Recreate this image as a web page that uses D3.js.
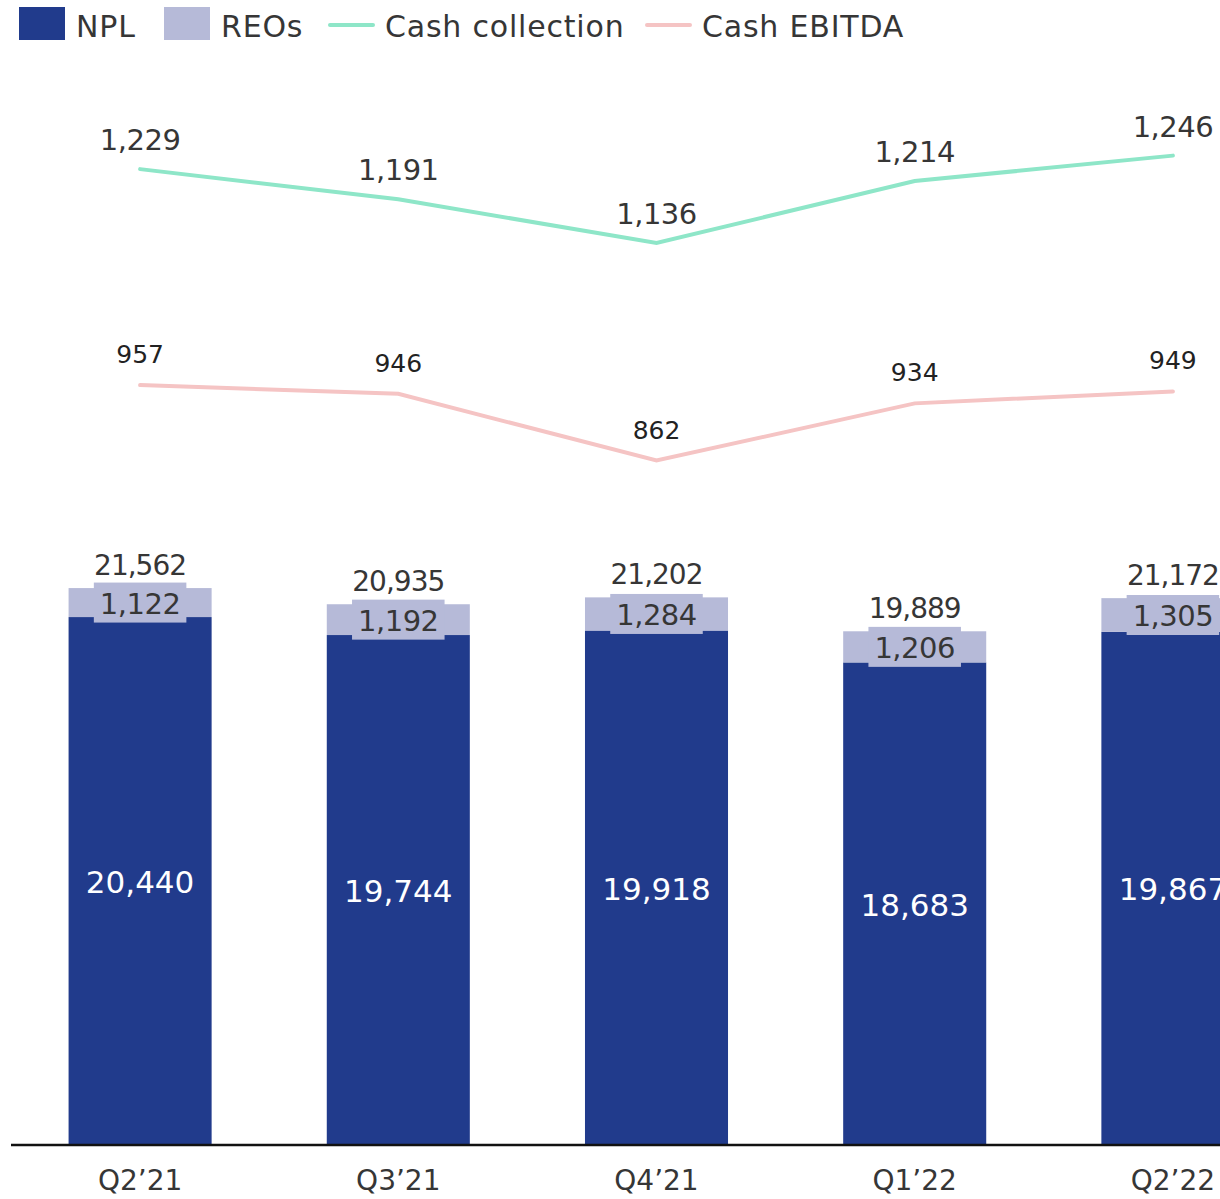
<!DOCTYPE html>
<html>
<head>
<meta charset="utf-8">
<script src="https://cdn.jsdelivr.net/npm/d3@7"></script>
<style>
  body { margin: 0; background: #fff; }
  svg { display: block; font-family: "DejaVu Sans", sans-serif; }
</style>
</head>
<body>
<script>
// data
var quarters = ["Q2\u201921", "Q3\u201921", "Q4\u201921", "Q1\u201922", "Q2\u201922"];
var npl = [20440, 19744, 19918, 18683, 19867];
var reos = [1122, 1192, 1284, 1206, 1305];
var totals = [21562, 20935, 21202, 19889, 21172];
var cashCollection = [1229, 1191, 1136, 1214, 1246];
var cashEbitda = [957, 946, 862, 934, 949];

var W = 1220, H = 1199;
var baseY = 1145;
var textCol = "#363636";
var colNpl = "#213b8c", colReo = "#b6bad8", colCash = "#8ee6c8", colEbitda = "#f5c4c4";

var svg = d3.select("body").append("svg")
  .attr("width", W).attr("height", H)
  .style("overflow", "hidden");

var x = d3.scaleBand()
  .domain(quarters)
  .range([11, 1302])
  .paddingInner(0.446)
  .paddingOuter(0.223);

var y = d3.scaleLinear().domain([0, 44330]).range([baseY, 0]);
var y2 = d3.scaleLinear().domain([0, 1442]).range([baseY, 0]);

var fmt = d3.format(",");

var rows = quarters.map(function(q, i) {
  return {q: q, npl: npl[i], reo: reos[i], total: totals[i], cash: cashCollection[i], ebitda: cashEbitda[i]};
});

var cx = function(d) { return x(d.q) + x.bandwidth() / 2; };

// NPL bars
svg.selectAll(".npl").data(rows).enter()
  .append("rect")
  .attr("class", "npl")
  .attr("fill", colNpl)
  .attr("x", function(d) { return x(d.q); })
  .attr("width", x.bandwidth())
  .attr("y", function(d) { return y(d.npl); })
  .attr("height", function(d) { return baseY - y(d.npl); });

// REO bars stacked on top
svg.selectAll(".reo").data(rows).enter()
  .append("rect")
  .attr("class", "reo")
  .attr("fill", colReo)
  .attr("x", function(d) { return x(d.q); })
  .attr("width", x.bandwidth())
  .attr("y", function(d) { return y(d.npl + d.reo); })
  .attr("height", function(d) { return y(d.npl) - y(d.npl + d.reo); });

// axis line
svg.append("line")
  .attr("x1", 11).attr("x2", W)
  .attr("y1", baseY).attr("y2", baseY)
  .attr("stroke", "#111").attr("stroke-width", 2.5);

// NPL labels
svg.selectAll(".nplLabel").data(rows).enter()
  .append("text")
  .attr("class", "nplLabel")
  .attr("x", cx)
  .attr("y", function(d) { return (y(d.npl) + baseY) / 2 + 12; })
  .attr("text-anchor", "middle")
  .attr("fill", "#fff")
  .style("font-size", "31px")
  .text(function(d) { return fmt(d.npl); });

// REO labels with background box
var reoG = svg.selectAll(".reoLabel").data(rows).enter()
  .append("g")
  .attr("class", "reoLabel");
reoG.append("text")
  .attr("x", cx)
  .attr("y", function(d) { return (y(d.npl) + y(d.npl + d.reo)) / 2 + 11; })
  .attr("text-anchor", "middle")
  .attr("fill", textCol)
  .style("font-size", "29px")
  .style("letter-spacing", "-0.5px")
  .text(function(d) { return fmt(d.reo); });
reoG.each(function(d) {
  var g = d3.select(this);
  var bb = g.select("text").node().getBBox();
  var mid = (y(d.npl) + y(d.npl + d.reo)) / 2;
  g.insert("rect", "text")
    .attr("x", bb.x - 6).attr("width", bb.width + 12)
    .attr("y", mid - 20).attr("height", 40)
    .attr("fill", colReo);
});

// total labels
svg.selectAll(".totalLabel").data(rows).enter()
  .append("text")
  .attr("class", "totalLabel")
  .attr("x", cx)
  .attr("y", function(d) { return y(d.total) - 13; })
  .attr("text-anchor", "middle")
  .attr("fill", textCol)
  .style("font-size", "28px")
  .style("letter-spacing", "-1px")
  .text(function(d) { return fmt(d.total); });

// lines
var lineCash = d3.line().x(cx).y(function(d) { return y2(d.cash); });
var lineEbitda = d3.line().x(cx).y(function(d) { return y2(d.ebitda); });

svg.append("path").datum(rows)
  .attr("fill", "none").attr("stroke", colCash).attr("stroke-width", 4)
  .attr("stroke-linecap", "round")
  .attr("d", lineCash);
svg.append("path").datum(rows)
  .attr("fill", "none").attr("stroke", colEbitda).attr("stroke-width", 4)
  .attr("stroke-linecap", "round")
  .attr("d", lineEbitda);

svg.selectAll(".cashLabel").data(rows).enter()
  .append("text")
  .attr("x", cx)
  .attr("y", function(d) { return y2(d.cash) - 19; })
  .attr("text-anchor", "middle")
  .attr("fill", textCol)
  .style("font-size", "29px")
  .style("letter-spacing", "-0.5px")
  .text(function(d) { return fmt(d.cash); });

svg.selectAll(".ebitdaLabel").data(rows).enter()
  .append("text")
  .attr("x", cx)
  .attr("y", function(d) { return y2(d.ebitda) - 22; })
  .attr("text-anchor", "middle")
  .attr("fill", "#222")
  .style("font-size", "25px")
  .text(function(d) { return fmt(d.ebitda); });

// x labels
svg.selectAll(".xLabel").data(rows).enter()
  .append("text")
  .attr("x", cx)
  .attr("y", 1190)
  .attr("text-anchor", "middle")
  .attr("fill", textCol)
  .style("font-size", "28px")
  .text(function(d) { return d.q; });

// legend
var legendItems = [
  {name: "NPL", type: "rect", color: colNpl, x: 19},
  {name: "REOs", type: "rect", color: colReo, x: 164},
  {name: "Cash collection", type: "line", color: colCash, x: 330},
  {name: "Cash EBITDA", type: "line", color: colEbitda, x: 647}
];
var lg = svg.selectAll(".legend").data(legendItems).enter()
  .append("g")
  .attr("transform", function(d) { return "translate(" + d.x + ",0)"; });
lg.filter(function(d) { return d.type == "rect"; })
  .append("rect")
  .attr("x", 0).attr("y", 7).attr("width", 46).attr("height", 33)
  .attr("fill", function(d) { return d.color; });
lg.filter(function(d) { return d.type == "line"; })
  .append("line")
  .attr("x1", 0).attr("x2", 43).attr("y1", 25).attr("y2", 25)
  .attr("stroke", function(d) { return d.color; })
  .attr("stroke-width", 4).attr("stroke-linecap", "round");
lg.append("text")
  .attr("x", function(d) { return d.type == "rect" ? 57 : 55; })
  .attr("y", 37)
  .attr("fill", textCol)
  .style("font-size", "30px")
  .style("letter-spacing", "0.8px")
  .text(function(d) { return d.name; });
</script>
</body>
</html>
